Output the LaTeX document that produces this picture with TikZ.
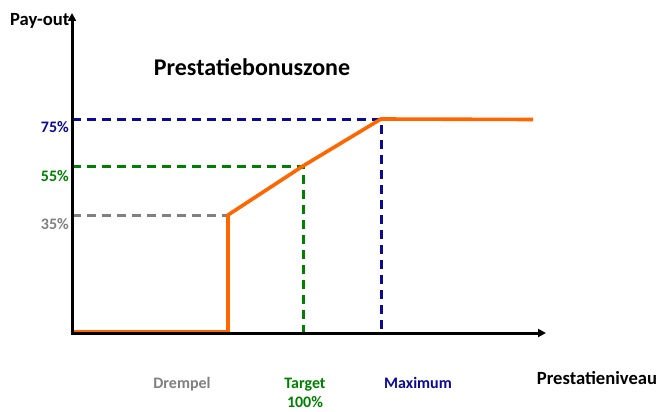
\documentclass[tikz,border=0pt]{standalone}
\usepackage{fontspec}
\setmainfont{Carlito}
\usetikzlibrary{arrows.meta}
\definecolor{cblue}{RGB}{10,10,150}
\definecolor{cgreen}{RGB}{0,128,0}
\definecolor{cgray}{RGB}{128,128,128}
\definecolor{corange}{RGB}{255,102,0}
\tikzset{
  axis/.style={line width=3pt,-{Triangle[length=8pt,width=8pt]}},
  guide/.style={line width=3pt,dash pattern=on 9pt off 6pt},
  curve/.style={line width=3.6pt,corange,line join=miter},
  lbl/.style={font=\bfseries\fontsize{16}{19}\selectfont,anchor=base,inner sep=0pt},
  big/.style={font=\bfseries\fontsize{18.6}{22}\selectfont,anchor=base,inner sep=0pt},
}
\begin{document}
\begin{tikzpicture}[x=1pt,y=-1pt]
\useasboundingbox[fill=white] (0,0) rectangle (659,412);
\coordinate (O) at (72,333);
\coordinate (Ytip) at (72,13);
\coordinate (Xtip) at (546,333);
\coordinate (d0) at (72,332);
\coordinate (d1) at (228,332);
\coordinate (d2) at (228,215);
\coordinate (t) at (303,166);
\coordinate (m) at (381,119);
\coordinate (e) at (533,119.5);
\coordinate (g0) at (72,215);
\coordinate (gn0) at (72,166);
\coordinate (tb) at (303,333);
\coordinate (b0) at (72,119);
\coordinate (mb) at (381,333);
% guides
\draw[guide,cgray] (g0) -- (226,215);
\draw[guide,cgreen] (gn0) -- (t) -- (tb);
\draw[guide,cblue] (b0) -- (m) -- (mb);
% curve
\draw[curve] (d0) -- (d1) -- (d2) -- (t) -- (m) -- (e);
% axes
\draw[axis] (72,334.5) -- (Ytip);
\draw[axis] (70.5,333) -- (Xtip);
% labels
\node[big,anchor=base west] (py) at (10,26) {Pay-out};
\node[font=\bfseries\fontsize{24}{28}\selectfont,anchor=base,inner sep=0pt] (title) at (252,76) {Prestatiebonuszone};
\node[lbl,anchor=base east,cblue] (l75) at (69,132) {75\%};
\node[lbl,anchor=base east,cgreen] (l55) at (69,181) {55\%};
\node[lbl,anchor=base east,cgray] (l35) at (69,229) {35\%};
\node[lbl,cgray] (dr) at (182,388) {Drempel};
\node[lbl,cgreen] (tg) at (305,388) {Target};
\node[lbl,cgreen] (tg2) at (305,407.5) {100\%};
\node[lbl,cblue] (mx) at (418,388) {Maximum};
\node[big] (pn) at (597,384) {Prestatieniveau};
\end{tikzpicture}
\end{document}
